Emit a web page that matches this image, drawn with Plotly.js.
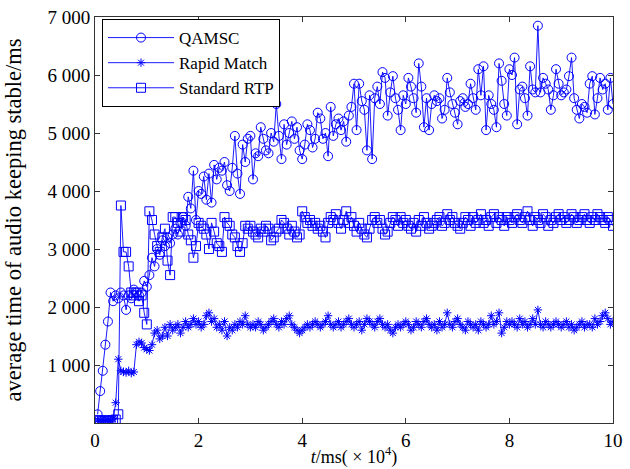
<!DOCTYPE html>
<html>
<head>
<meta charset="utf-8">
<script src="https://cdn.plot.ly/plotly-3.0.1.min.js"></script>
<style>html,body{margin:0;padding:0;background:#fff;}#chart{width:630px;height:469px;}</style>
</head>
<body>
<div id="chart"></div>
<script>
// sampling step of t (in units of 10^4 ms)
const tStep = 0.05;

const qamsc = [
  150, 550, 900, 1350, 1750, 2250, 2100, 2200, 2150, 2250,
  2200, 1950, 2200, 2150, 2300, 2250, 2200, 2250, 2450, 2350,
  2550, 2850, 2700, 3000, 2900, 3150, 3050, 3200, 3100, 3250,
  3350, 3250, 3450, 3550, 3400, 3900, 3700, 4350, 3500, 4000,
  3950, 4250, 3850, 4300, 3800, 4450, 4200, 4400, 4350, 4500,
  4100, 4000, 4400, 4950, 4300, 3950, 4800, 4500, 4900, 4950,
  4200, 4650, 4600, 5100, 4900, 4700, 4650, 5000, 4850, 5500,
  4950, 4550, 5150, 4800, 5000, 5200, 4900, 5100, 4700, 4550,
  4800, 5150, 5050, 4750, 4900, 5350, 5250, 4900, 5000, 4600,
  5450, 4950, 5150, 5250, 5050, 5200, 4850, 5300, 5450, 5850,
  5050, 5850, 5550, 5400, 4700, 5650, 4550, 5600, 5800, 5500,
  6050, 5950, 5300, 5700, 5980, 5600, 5400, 5050, 5650, 5500,
  5950, 5800, 5600, 5350, 6200, 5800, 5100, 5600, 5050, 5500,
  5650, 5550, 5600, 5250, 5400, 5950, 5700, 5500, 5350, 5150,
  5550, 5600, 5450, 5500, 5850, 5600, 5400, 6100, 5650, 6150,
  5050, 5650, 5500, 5400, 5100, 6200, 5900, 5500, 5300, 6100,
  6000, 6300, 5150, 5750, 5800, 5600, 5300, 6150, 5750, 5700,
  6850, 5700, 5950, 5850, 5750, 5400, 5650, 6100, 5850, 5650,
  5700, 5750, 5980, 6300, 5600, 5400, 5250, 5500, 5450, 5350,
  5850, 5980, 5320, 5600, 5950, 5750, 5850, 5400, 5950, 5500
];

const rapidMatch = [
  50, 30, 60, 40, 50, 30, 70, 350, 1100, 900,
  880, 870, 900, 860, 880, 1350, 1400, 1380, 1300, 1270,
  1250, 1350, 1550, 1600, 1450, 1500, 1650, 1500, 1700, 1600,
  1650, 1700, 1550, 1650, 1750, 1650, 1700, 1800, 1700, 1750,
  1650, 1700, 1850, 1900, 1750, 1800, 1650, 1700, 1600, 1750,
  1500, 1650, 1600, 1700, 1650, 1750, 1700, 1850, 1700, 1650,
  1700, 1650, 1750, 1700, 1600, 1650, 1700, 1750, 1800, 1700,
  1650, 1750, 1700, 1800, 1850, 1700, 1650, 1600, 1550, 1600,
  1650, 1700, 1650, 1700, 1750, 1700, 1650, 1700, 1750, 1850,
  1700, 1650, 1700, 1750, 1650, 1700, 1750, 1800, 1700, 1650,
  1700, 1750, 1600, 1700, 1800, 1750, 1700, 1650, 1750, 1800,
  1700, 1650, 1700, 1600, 1550, 1650, 1700, 1650, 1700, 1750,
  1700, 1600, 1650, 1750, 1700, 1650, 1750, 1800, 1700, 1650,
  1700, 1600, 1750, 1650, 1700, 1900, 1700, 1650, 1750, 1800,
  1700, 1650, 1600, 1750, 1700, 1650, 1700, 1600, 1750, 1700,
  1650, 1700, 1850, 1700, 1750, 1900, 1550, 1650, 1750, 1700,
  1750, 1700, 1650, 1800, 1700, 1750, 1650, 1700, 1800, 1700,
  1950, 1700, 1650, 1750, 1700, 1650, 1700, 1750, 1700, 1650,
  1700, 1750, 1650, 1700, 1600, 1650, 1700, 1750, 1650, 1700,
  1700, 1650, 1800, 1700, 1750, 1850, 1900, 1800, 1700, 1750
];

const standardRTP = [
  50, 40, 30, 50, 40, 30, 50, 60, 150, 3750,
  2950, 2950, 2700, 2250, 2200, 2250, 2100, 2200, 1900, 1700,
  3650, 3500, 3250, 3050, 2950, 3200, 3350, 2800, 2550, 3550,
  3550, 3450, 3300, 3550, 3500, 3250, 3150, 2850, 3050, 3450,
  3400, 3350, 3250, 3000, 3450, 3300, 3100, 3050, 2950, 3550,
  3450, 3400, 3250, 3200, 3050, 2950, 3100, 3400, 3350, 3400,
  3300, 3250, 3200, 3350, 3300, 3400, 3350, 3150, 3200, 3300,
  3350, 3500, 3450, 3350, 3250, 3400, 3300, 3200, 3250, 3650,
  3550, 3450, 3500, 3400, 3450, 3350, 3400, 3300, 3200, 3450,
  3550, 3500, 3600, 3450, 3350, 3500, 3650, 3450, 3550, 3400,
  3300, 3450, 3350, 3250, 3200, 3350, 3500, 3550, 3450, 3500,
  3350, 3250, 3300, 3450, 3550, 3500, 3400, 3550, 3450, 3500,
  3400, 3350, 3450, 3300, 3500, 3400, 3550, 3450, 3350, 3400,
  3450, 3500, 3550, 3400, 3450, 3600, 3500, 3550, 3450, 3400,
  3350, 3450, 3550, 3500, 3400, 3550, 3450, 3500, 3600, 3450,
  3500, 3400, 3550, 3600, 3450, 3550, 3500, 3400, 3550, 3500,
  3450, 3550, 3600, 3500, 3450, 3550, 3650, 3500, 3400, 3550,
  3500, 3450, 3600, 3550, 3400, 3500, 3450, 3550, 3600, 3500,
  3550, 3450, 3500, 3600, 3550, 3450, 3500, 3550, 3600, 3500,
  3450, 3550, 3500, 3600, 3550, 3500, 3450, 3550, 3500, 3400
];

const seriesNames = ['QAMSC', 'Rapid Match', 'Standard RTP'];
const xTickVals = [0, 2, 4, 6, 8, 10];
const yTickVals = [1000, 2000, 3000, 4000, 5000, 6000, 7000];
const yTickText = ['1 000', '2 000', '3 000', '4 000', '5 000', '6 000', '7 000'];

const t = qamsc.map((_, i) => +((i + 1) * tStep).toFixed(2));

const blue = '#0000ff';
const serif = 'Liberation Serif, Times New Roman, serif';
const tickFont = {family: serif, size: 19, color: '#000'};
const legendFont = {family: serif, size: 17, color: '#000'};
const xTitleFont = {family: serif, size: 18, color: '#000'};
const yTitleFont = {family: serif, size: 22.5, color: '#000'};

function mk(y, name, symbol, size) {
  return {
    x: t, y: y, name: name, type: 'scatter', mode: 'lines+markers',
    line: {color: blue, width: 0.9},
    marker: {symbol: symbol, size: size, color: blue, line: {color: blue, width: 1}}
  };
}

const data = [
  mk(qamsc, seriesNames[0], 'circle-open', 9),
  mk(rapidMatch, seriesNames[1], 'asterisk-open', 7),
  mk(standardRTP, seriesNames[2], 'square-open', 9)
];

const axisCommon = {
  showline: true, linecolor: '#333', linewidth: 1, mirror: 'ticks',
  ticks: 'inside', ticklen: 5, tickcolor: '#333', tickwidth: 1,
  showgrid: false, zeroline: false, tickfont: tickFont
};

const layout = {
  width: 630, height: 469,
  margin: {l: 95, r: 17, t: 17, b: 46},
  paper_bgcolor: '#fff', plot_bgcolor: '#fff',
  font: tickFont,
  showlegend: true,
  legend: {
    x: 0.0135, y: 0.995, xanchor: 'left', yanchor: 'top',
    bgcolor: '#fff', bordercolor: '#000', borderwidth: 1,
    font: legendFont, tracegroupgap: 0, itemwidth: 66
  },
  xaxis: Object.assign({}, axisCommon, {
    range: [0, 10], tickmode: 'array', tickvals: xTickVals,
    title: {text: '<i>t</i>/ms( × 10<sup>4</sup>)', font: xTitleFont, standoff: 0}
  }),
  yaxis: Object.assign({}, axisCommon, {
    range: [0, 7000], tickmode: 'array', tickvals: yTickVals, ticktext: yTickText,
    title: {text: 'average time of audio keeping stable/ms', font: yTitleFont, standoff: 19}
  })
};

Plotly.newPlot('chart', data, layout, {displayModeBar: false, staticPlot: true});
</script>
</body>
</html>
